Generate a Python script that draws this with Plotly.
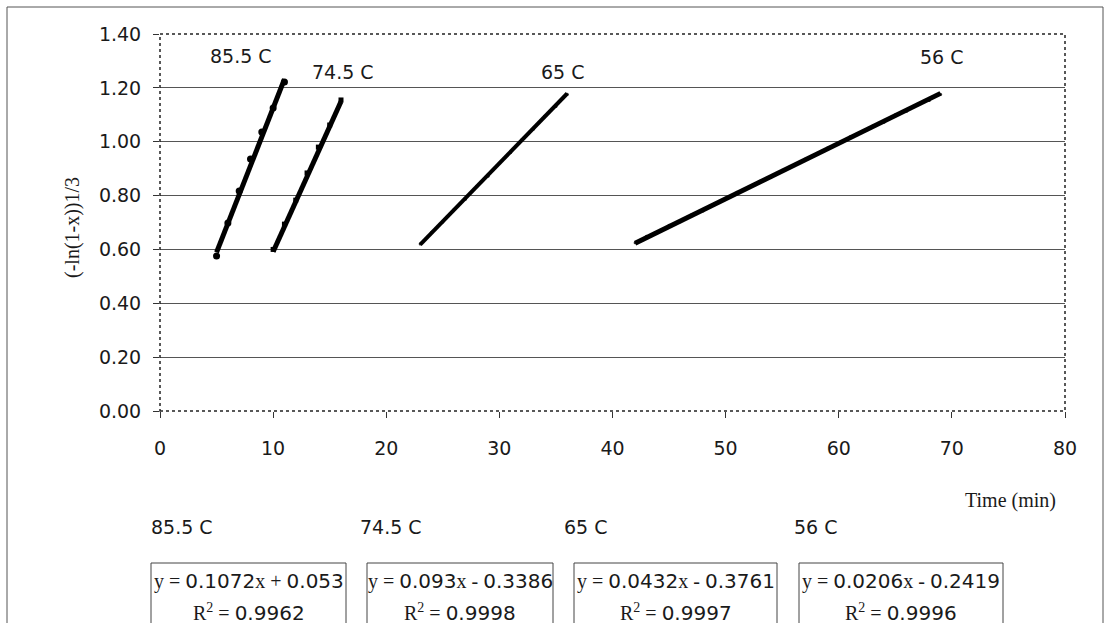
import plotly.graph_objects as go

# ---- canvas / plot-area geometry (pixels) ----
W, H = 1105, 623
ML, MR, MT, MB = 160, 40, 34, 212
PW, PH = W - ML - MR, H - MT - MB


def px(xp):
    """pixel x -> paper x"""
    return (xp - ML) / PW


def py(yp):
    """pixel y -> paper y"""
    return (H - MB - yp) / PH


# ---- data: time (min) vs (-ln(1-x))^(1/3) ----
temps = ["85.5 C", "74.5 C", "65 C", "56 C"]

t_855 = [5, 6, 7, 8, 9, 10, 11]
y_855 = [0.576, 0.698, 0.817, 0.936, 1.036, 1.125, 1.222]

t_745 = [10, 11, 12, 13, 14, 15, 16]
y_745 = [0.600, 0.694, 0.783, 0.884, 0.980, 1.062, 1.155]

t_65 = [23, 24, 25, 26, 27, 28, 29, 30, 31, 32, 33, 34, 35, 36]
y_65 = [0.620, 0.664, 0.702, 0.749, 0.786, 0.835, 0.872, 0.921, 0.960,
        1.008, 1.046, 1.095, 1.131, 1.176]

t_56 = list(range(42, 70))
y_56 = [0.625, 0.649, 0.663, 0.690, 0.703, 0.730, 0.743, 0.770, 0.787,
        0.812, 0.829, 0.853, 0.869, 0.894, 0.912, 0.935, 0.952, 0.977,
        0.993, 1.018, 1.034, 1.058, 1.072, 1.100, 1.113, 1.137, 1.153,
        1.176]

# linear fits
slopes = [0.1072, 0.093, 0.0432, 0.0206]
intercepts = [0.053, -0.3386, -0.3761, -0.2419]
r2 = [0.9962, 0.9998, 0.9997, 0.9996]

x_ticks = [0, 10, 20, 30, 40, 50, 60, 70, 80]
y_ticks = [0.0, 0.2, 0.4, 0.6, 0.8, 1.0, 1.2, 1.4]

series_t = [t_855, t_745, t_65, t_56]
series_y = [y_855, y_745, y_65, y_56]

SANS = "DejaVu Sans"
SERIF = "Liberation Serif"
INK = "#1a1a1a"

fig = go.Figure()

line_widths = [5, 5, 4, 5]
marker_styles = [
    dict(symbol="circle", size=7, color="black"),
    dict(symbol="square", size=5, color="black"),
    dict(symbol="circle", size=3, color="#333"),
    dict(symbol="circle", size=3, color="#333"),
]
markers_on_top = [True, True, False, False]

for i in range(4):
    ts, ys = series_t[i], series_y[i]
    x0, x1 = min(ts), max(ts)
    pts = go.Scatter(x=ts, y=ys, mode="markers", marker=marker_styles[i],
                     name=temps[i], showlegend=False)
    trend = go.Scatter(
        x=[x0, x1],
        y=[slopes[i] * x0 + intercepts[i], slopes[i] * x1 + intercepts[i]],
        mode="lines", line=dict(color="black", width=line_widths[i]),
        hoverinfo="skip", showlegend=False)
    if markers_on_top[i]:
        fig.add_trace(trend)
        fig.add_trace(pts)
    else:
        fig.add_trace(pts)
        fig.add_trace(trend)

annotations = []


def note(xp, yp, text, family, size, angle=0):
    annotations.append(dict(x=px(xp), y=py(yp), xref="paper", yref="paper",
                            xanchor="center", yanchor="middle",
                            text=text, textangle=angle, showarrow=False,
                            font=dict(family=family, size=size, color=INK)))


# ---- series labels inside the plot ----
label_pos = [(7.2, 1.32), (16.2, 1.26), (35.6, 1.26), (69.1, 1.315)]
for name, (lx, ly) in zip(temps, label_pos):
    annotations.append(dict(x=lx, y=ly, xref="x", yref="y", text=name,
                            xanchor="center", yanchor="middle",
                            showarrow=False,
                            font=dict(family=SANS, size=19, color=INK)))

# ---- axis titles ----
note(72, 228, "(-ln(1-x))1/3", SERIF, 20, angle=-90)
note(1010, 500, "Time (min)", SERIF, 20)

# ---- equation panel under the chart ----
head_x = [182, 391, 585, 815]
box_l = [151, 367, 574, 799]
box_r = [346, 553, 777, 1003]


def num(s):
    return '<span style="font-family:%s">%s</span>' % (SANS, s)


shapes = []
for i in range(4):
    note(head_x[i], 527, temps[i], SANS, 19)
    sign = "+" if intercepts[i] >= 0 else "-"
    eq = "y = %sx %s %s" % (num("%g" % slopes[i]), sign,
                            num("%g" % abs(intercepts[i])))
    rr = "R<sup>2</sup> = %s" % num("%g" % r2[i])
    cx = (box_l[i] + box_r[i]) / 2
    note(cx, 581, eq, SERIF, 20)
    note(cx, 612, rr, SERIF, 20)
    shapes.append(dict(type="rect", xref="paper", yref="paper",
                       x0=px(box_l[i]), x1=px(box_r[i]),
                       y0=py(563), y1=py(660),
                       line=dict(color="#444", width=1)))

# dotted plot-area frame
shapes.append(dict(type="rect", xref="paper", yref="paper",
                   x0=0, x1=1, y0=0, y1=1,
                   line=dict(color="#222", width=1.5, dash="dot")))
# outer chart frame
shapes.append(dict(type="rect", xref="paper", yref="paper",
                   x0=px(7), x1=px(1103), y0=py(7), y1=py(680),
                   line=dict(color="#555", width=1)))

fig.update_layout(
    width=W, height=H,
    margin=dict(l=ML, r=MR, t=MT, b=MB, pad=0),
    paper_bgcolor="white", plot_bgcolor="white",
    showlegend=False,
    annotations=annotations,
    shapes=shapes,
    xaxis=dict(range=[0, 80], tickvals=x_ticks,
               ticktext=[str(v) for v in x_ticks],
               showgrid=False, zeroline=False, showline=False,
               ticks="outside", ticklen=6, tickcolor="#333",
               ticklabelstandoff=14,
               tickfont=dict(family=SANS, size=19, color=INK)),
    yaxis=dict(range=[0, 1.4], tickvals=y_ticks,
               ticktext=["%.2f" % v for v in y_ticks],
               showgrid=True, gridcolor="#555", gridwidth=1,
               zeroline=False, showline=False,
               ticks="outside", ticklen=6, tickcolor="#333",
               ticklabelstandoff=8,
               tickfont=dict(family=SANS, size=19, color=INK)),
)

fig.write_html("out.html")
